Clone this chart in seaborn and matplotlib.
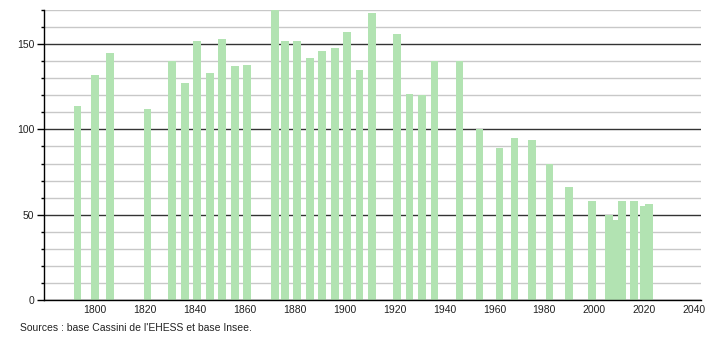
import numpy as np
import pandas as pd
import matplotlib
matplotlib.use("Agg")
import matplotlib.pyplot as plt
import seaborn as sns
from matplotlib.ticker import MultipleLocator, FixedLocator

# ---- data ----
years = [1793, 1800, 1806, 1821, 1831, 1836, 1841, 1846, 1851, 1856, 1861,
         1872, 1876, 1881, 1886, 1891, 1896, 1901, 1906, 1911, 1921, 1926,
         1931, 1936, 1946, 1954, 1962, 1968, 1975, 1982, 1990, 1999, 2006,
         2008, 2011, 2016, 2020, 2022]
population = [114, 132, 145, 112, 140, 127, 152, 133, 153, 137, 138,
              170, 152, 152, 142, 146, 148, 157, 135, 168, 156, 121,
              120, 140, 140, 100, 89, 95, 94, 80, 66, 58, 50,
              47, 58, 58, 55, 56]
x_ticks = [1800, 1820, 1840, 1860, 1880, 1900, 1920, 1940, 1960, 1980, 2000, 2020, 2040]
y_major = [0, 50, 100, 150]
hidden_years = [2008]
source_text = "Sources : base Cassini de l'EHESS et base Insee."

sns.set_theme(style="white")
plt.rcParams['font.family'] = ['Liberation Sans', 'DejaVu Sans']

W, H = 710, 340
fig = plt.figure(figsize=(W / 100, H / 100), dpi=100)
ax = fig.add_axes([44 / W, 40 / H, (700.7 - 44) / W, 290 / H])

df = pd.DataFrame({"year": years, "population": population})
min_gap = np.min(np.diff(sorted(years)))
sns.barplot(data=df, x="year", y="population", native_scale=True,
            width=3.1 / min_gap, color="#b2e3b2", saturation=1,
            errorbar=None, linewidth=0, edgecolor="none", ax=ax)

for p in ax.patches:
    cx = p.get_x() + p.get_width() / 2
    if any(abs(cx - h) < 0.5 for h in hidden_years):
        p.set_zorder(0.9)

ax.set_xlim(1779.6, 2042.6)
ax.set_ylim(0, 170)
ax.set_xlabel("")
ax.set_ylabel("")

ax.xaxis.set_major_locator(FixedLocator(x_ticks))
ax.set_xticklabels([str(t) for t in x_ticks])
ax.yaxis.set_major_locator(FixedLocator(y_major))
ax.yaxis.set_minor_locator(MultipleLocator(10))

ax.set_axisbelow(True)
ax.grid(False)
ax.grid(which="minor", axis="y", color="#c8c8c8", linewidth=1)
ax.grid(which="major", axis="y", color="#333333", linewidth=1)

ax.tick_params(axis="y", which="major", left=True, length=5, width=1,
               color="black", labelsize=7.5, pad=2, labelcolor="#222222")
ax.tick_params(axis="y", which="minor", left=True, length=2.5, width=1,
               color="black")
ax.tick_params(axis="x", which="both", bottom=False, length=0,
               labelsize=7.5, pad=3.5, labelcolor="#222222")

for s in ["top", "right"]:
    ax.spines[s].set_visible(False)
for s in ["left", "bottom"]:
    ax.spines[s].set_color("black")
    ax.spines[s].set_linewidth(1)

fig.text(20 / W, 1 - 331 / H, source_text, fontsize=7.5, color="#222222",
         va="baseline", ha="left")

fig.savefig("out.png", dpi=100)
